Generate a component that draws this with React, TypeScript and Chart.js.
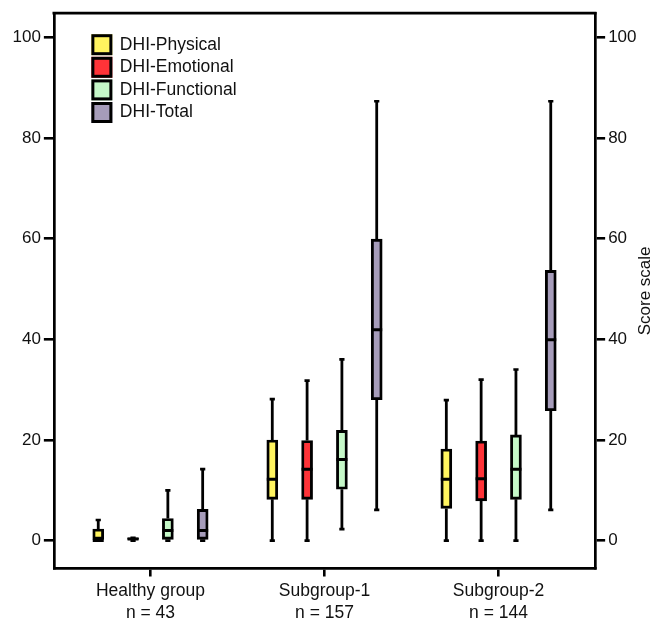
import { useEffect, useRef } from 'react';
import { Chart, registerables } from 'chart.js';

Chart.register(...registerables);

const categories = ['Healthy group', 'Subgroup-1', 'Subgroup-2'];
const sampleSizes = ['n = 43', 'n = 157', 'n = 144'];
const seriesNames = ['DHI-Physical', 'DHI-Emotional', 'DHI-Functional', 'DHI-Total'];
// each entry: [min, q1, median, q3, max] for Healthy group, Subgroup-1, Subgroup-2
const physicalStats = [
  [0, 0, 0, 2.3, 4.1],
  [0, 8.2, 12.2, 20, 28.1],
  [0, 6.4, 12.2, 18.2, 27.9],
];
const emotionalStats = [
  [0, 0, 0.3, 0.55, 0.55],
  [0, 8.2, 14.2, 19.9, 31.8],
  [0, 7.9, 12.3, 19.8, 32],
];
const functionalStats = [
  [0, 0, 2, 4.4, 10],
  [2.3, 10.2, 16.1, 21.9, 36],
  [0, 8.2, 14.2, 21, 34],
];
const totalStats = [
  [0, 0, 2, 6.2, 14.2],
  [6.1, 28, 41.9, 59.9, 87.3],
  [6.1, 25.8, 39.9, 53.7, 87.3],
];
const yTicks = [0, 20, 40, 60, 80, 100];
const yAxisTitle = 'Score scale';

const FONT = '"Liberation Sans", Arial, sans-serif';
const seriesColors = ['#FFF45F', '#FF3338', '#C5F8C8', '#A69CBA'];
const seriesOffsets = [-0.3, -0.1, 0.1, 0.3];

export default function App() {
  const ref = useRef<HTMLCanvasElement | null>(null);

  useEffect(() => {
    if (!ref.current) return;
    const allStats = [physicalStats, emotionalStats, functionalStats, totalStats];

    const boxDatasets: any[] = allStats.map((stats, s) => ({
      type: 'bar',
      label: seriesNames[s],
      data: stats.map((st, g) => ({ x: g + seriesOffsets[s], y: [st[1], st[3]] })),
      backgroundColor: seriesColors[s],
      borderColor: '#000',
      borderWidth: 2.9,
      borderSkipped: false,
      barThickness: 11,
      grouped: false,
      order: 2,
    }));

    const whiskerData: any[] = [];
    const capData: any[] = [];
    const medianData: any[] = [];
    allStats.forEach((stats, s) => {
      stats.forEach((st, g) => {
        const x = g + seriesOffsets[s];
        whiskerData.push({ x, y: st[0] }, { x, y: st[1] }, { x, y: null });
        whiskerData.push({ x, y: st[3] }, { x, y: st[4] }, { x, y: null });
        capData.push({ x, y: st[0] }, { x, y: st[4] });
        medianData.push({ x, y: st[2] });
      });
    });

    const chart = new Chart(ref.current, {
      type: 'bar',
      data: {
        datasets: [
          ...boxDatasets,
          {
            type: 'line',
            label: 'whiskers',
            data: whiskerData,
            borderColor: '#000',
            borderWidth: 2.8,
            pointRadius: 0,
            spanGaps: false,
            order: 3,
          },
          {
            type: 'line',
            label: 'caps',
            data: capData,
            showLine: false,
            pointStyle: 'line',
            pointRadius: 2.6,
            pointBorderWidth: 2.7,
            pointBorderColor: '#000',
            order: 1,
          },
          {
            type: 'line',
            label: 'medians',
            data: medianData,
            showLine: false,
            pointStyle: 'line',
            pointRadius: 5.5,
            pointBorderWidth: 3,
            pointBorderColor: '#000',
            order: 0,
          },
        ] as any,
      },
      options: {
        animation: false,
        responsive: true,
        maintainAspectRatio: false,
        events: [],
        layout: { padding: { left: 9.5, right: 14.5, top: 7, bottom: -3 } },
        plugins: {
          legend: { display: false },
          tooltip: { enabled: false },
        },
        scales: {
          x: {
            type: 'linear',
            min: -0.555,
            max: 2.555,
            offset: false,
            afterBuildTicks: (scale: any) => {
              scale.ticks = categories.map((_, i) => ({ value: i }));
            },
            ticks: {
              color: '#111',
              font: { family: FONT, size: 17.5, lineHeight: 1.3 },
              padding: 3,
              maxRotation: 0,
              autoSkip: false,
              callback: (_v: any, i: number) => [categories[i], sampleSizes[i]],
            },
            grid: { offset: false, drawOnChartArea: false, color: '#000', lineWidth: 2.6, tickLength: 8 },
            border: { display: true, color: '#000', width: 2.7 },
          },
          y: {
            type: 'linear',
            position: 'left',
            min: -5.54,
            max: 104.8,
            afterBuildTicks: (scale: any) => {
              scale.ticks = yTicks.map((v) => ({ value: v }));
            },
            ticks: { color: '#111', font: { family: FONT, size: 17 }, padding: 3 },
            grid: { drawOnChartArea: false, color: '#000', lineWidth: 2.6, tickLength: 10 },
            border: { display: true, color: '#000', width: 2.7 },
          },
          y2: {
            type: 'linear',
            position: 'right',
            min: -5.54,
            max: 104.8,
            afterBuildTicks: (scale: any) => {
              scale.ticks = yTicks.map((v) => ({ value: v }));
            },
            ticks: { color: '#111', font: { family: FONT, size: 17 }, padding: 3 },
            grid: { drawOnChartArea: false, color: '#000', lineWidth: 2.6, tickLength: 10 },
            border: { display: true, color: '#000', width: 2.7 },
          },
        },
      } as any,
      plugins: [
        {
          id: 'frameLegendTitle',
          afterDraw(c: any) {
            const ctx = c.ctx;
            const area = c.chartArea;
            ctx.save();
            // top border of frame
            ctx.strokeStyle = '#000';
            ctx.lineWidth = 2.7;
            ctx.beginPath();
            ctx.moveTo(area.left - 1.35, area.top);
            ctx.lineTo(area.right + 1.35, area.top);
            ctx.stroke();

            // legend
            const lx = area.left + 37.5;
            const ly = area.top + 21;
            const size = 21;
            const step = 22.6;
            ctx.font = `17.5px ${FONT}`;
            ctx.textBaseline = 'middle';
            ctx.textAlign = 'left';
            seriesNames.forEach((name, i) => {
              const y = ly + i * step;
              ctx.fillStyle = seriesColors[i];
              ctx.fillRect(lx, y, size, size);
              ctx.lineWidth = 3;
              ctx.strokeStyle = '#000';
              ctx.strokeRect(lx + 1.5, y + 1.5, size - 3, size - 3);
              ctx.fillStyle = '#111';
              ctx.fillText(name, lx + 28.5, y + size / 2);
            });

            // right axis title, reading bottom to top
            ctx.translate(645, (area.top + area.bottom) / 2);
            ctx.rotate(-Math.PI / 2);
            ctx.textAlign = 'center';
            ctx.textBaseline = 'middle';
            ctx.font = `17px ${FONT}`;
            ctx.fillStyle = '#111';
            ctx.fillText(yAxisTitle, 0, 0);
            ctx.restore();
          },
        },
      ],
    });
    return () => chart.destroy();
  }, []);

  return (
    <div style={{ position: 'fixed', left: 0, top: 0, width: 654, height: 625, background: '#fff' }}>
      <canvas ref={ref} />
    </div>
  );
}
